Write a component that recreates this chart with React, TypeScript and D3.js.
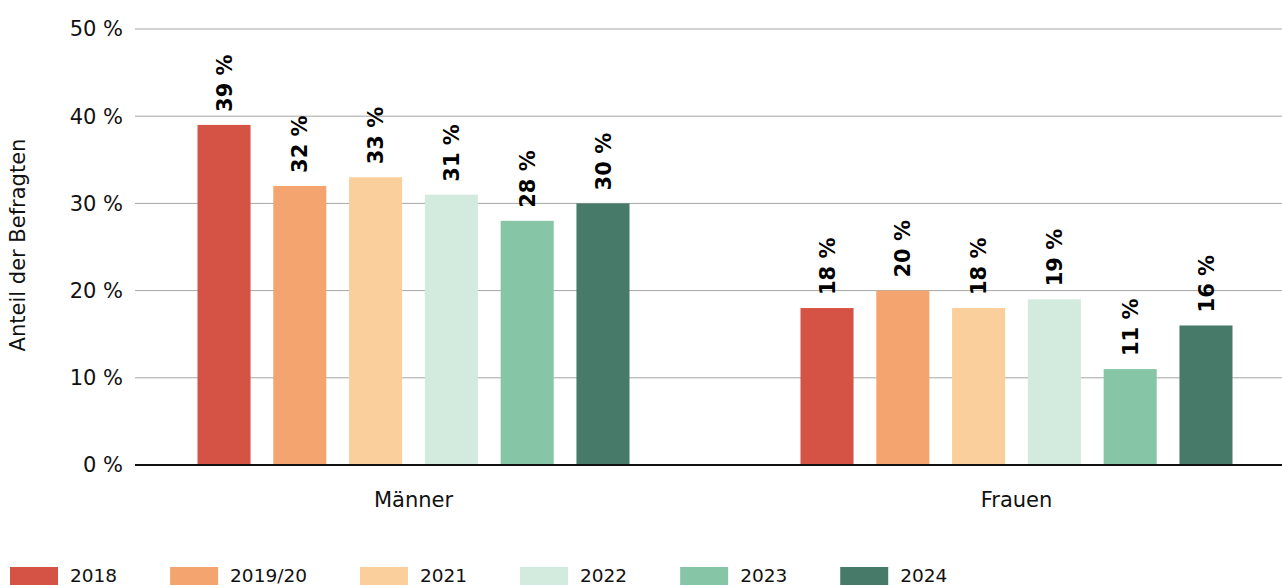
import { useEffect, useRef } from 'react';
import * as d3 from 'd3';

const categories = ['Männer', 'Frauen'];
const years = ['2018', '2019/20', '2021', '2022', '2023', '2024'];
const maennerValues = [39, 32, 33, 31, 28, 30];
const frauenValues = [18, 20, 18, 19, 11, 16];
const yTicks = [0, 10, 20, 30, 40, 50];
const colors = ['#d55345', '#f4a56f', '#fbcf9c', '#d3eadf', '#86c6a7', '#487a69'];

export default function App() {
  const svgRef = useRef<SVGSVGElement>(null);

  useEffect(() => {
    if (!svgRef.current) return;
    const svg = d3.select(svgRef.current);
    svg.selectAll('*').remove();

    const width = 1282;
    const height = 585;
    const font = '"DejaVu Sans", Verdana, sans-serif';
    const plotLeft = 135;
    const plotRight = 1282;

    const y = d3.scaleLinear().domain([0, 50]).range([465, 29]);
    const x0 = d3.scaleBand().domain(categories).range([112, 1318]).padding(0);
    const x1 = d3
      .scaleBand()
      .domain(years)
      .range([0, 432])
      .paddingInner(0.3)
      .paddingOuter(0);

    const valuesByCat: Record<string, number[]> = {
      Männer: maennerValues,
      Frauen: frauenValues,
    };

    // gridlines
    svg
      .append('g')
      .selectAll('line')
      .data(yTicks.filter((t) => t > 0))
      .enter()
      .append('line')
      .attr('x1', plotLeft)
      .attr('x2', plotRight)
      .attr('y1', (d) => y(d))
      .attr('y2', (d) => y(d))
      .attr('stroke', '#a6a6a6')
      .attr('stroke-width', 1);

    // y tick labels
    svg
      .append('g')
      .selectAll('text')
      .data(yTicks)
      .enter()
      .append('text')
      .attr('x', 123)
      .attr('y', (d) => y(d))
      .attr('dy', '0.35em')
      .attr('text-anchor', 'end')
      .style('font-family', font)
      .style('font-size', '21px')
      .style('fill', '#111')
      .text((d) => `${d} %`);

    // axis title
    svg
      .append('text')
      .attr('transform', `translate(25,245) rotate(-90)`)
      .attr('text-anchor', 'middle')
      .style('font-family', font)
      .style('font-size', '21px')
      .style('fill', '#111')
      .text('Anteil der Befragten');

    // bars
    categories.forEach((cat) => {
      const center = (x0(cat) || 0) + x0.bandwidth() / 2;
      const offset = center - 216;
      const g = svg.append('g').attr('transform', `translate(${offset},0)`);
      const vals = valuesByCat[cat];

      g.selectAll('rect')
        .data(vals)
        .enter()
        .append('rect')
        .attr('x', (d, i) => x1(years[i]) || 0)
        .attr('y', (d) => y(d))
        .attr('width', x1.bandwidth())
        .attr('height', (d) => y(0) - y(d))
        .attr('fill', (d, i) => colors[i]);

      g.selectAll('text.val')
        .data(vals)
        .enter()
        .append('text')
        .attr('class', 'val')
        .attr(
          'transform',
          (d, i) =>
            `translate(${(x1(years[i]) || 0) + x1.bandwidth() / 2},${y(d) - 13}) rotate(-90)`
        )
        .attr('dy', '0.36em')
        .attr('text-anchor', 'start')
        .style('font-family', font)
        .style('font-size', '21px')
        .style('font-weight', 'bold')
        .style('fill', '#000')
        .text((d) => `${d} %`);

      svg
        .append('text')
        .attr('x', center)
        .attr('y', 507)
        .attr('text-anchor', 'middle')
        .style('font-family', font)
        .style('font-size', '21px')
        .style('fill', '#111')
        .text(cat);
    });

    // zero line
    svg
      .append('line')
      .attr('x1', plotLeft)
      .attr('x2', plotRight)
      .attr('y1', y(0))
      .attr('y2', y(0))
      .attr('stroke', '#111')
      .attr('stroke-width', 2);

    // legend (flow layout: swatch, label, gap)
    const legend = svg.append('g');
    let lx = 10;
    years.forEach((yr, i) => {
      const item = legend.append('g').attr('transform', `translate(${lx},567)`);
      item
        .append('rect')
        .attr('width', 48)
        .attr('height', 18)
        .attr('fill', colors[i]);
      const t = item
        .append('text')
        .attr('x', 60)
        .attr('y', 15)
        .style('font-family', font)
        .style('font-size', '18.5px')
        .style('fill', '#111')
        .text(yr);
      const tw = (t.node() as SVGTextElement).getComputedTextLength();
      lx += 60 + tw + 53;
    });

    svg.attr('width', width).attr('height', height);
  }, []);

  return (
    <div style={{ position: 'absolute', left: 0, top: 0 }}>
      <svg ref={svgRef} width={1282} height={585} style={{ display: 'block', background: '#fff' }} />
    </div>
  );
}
